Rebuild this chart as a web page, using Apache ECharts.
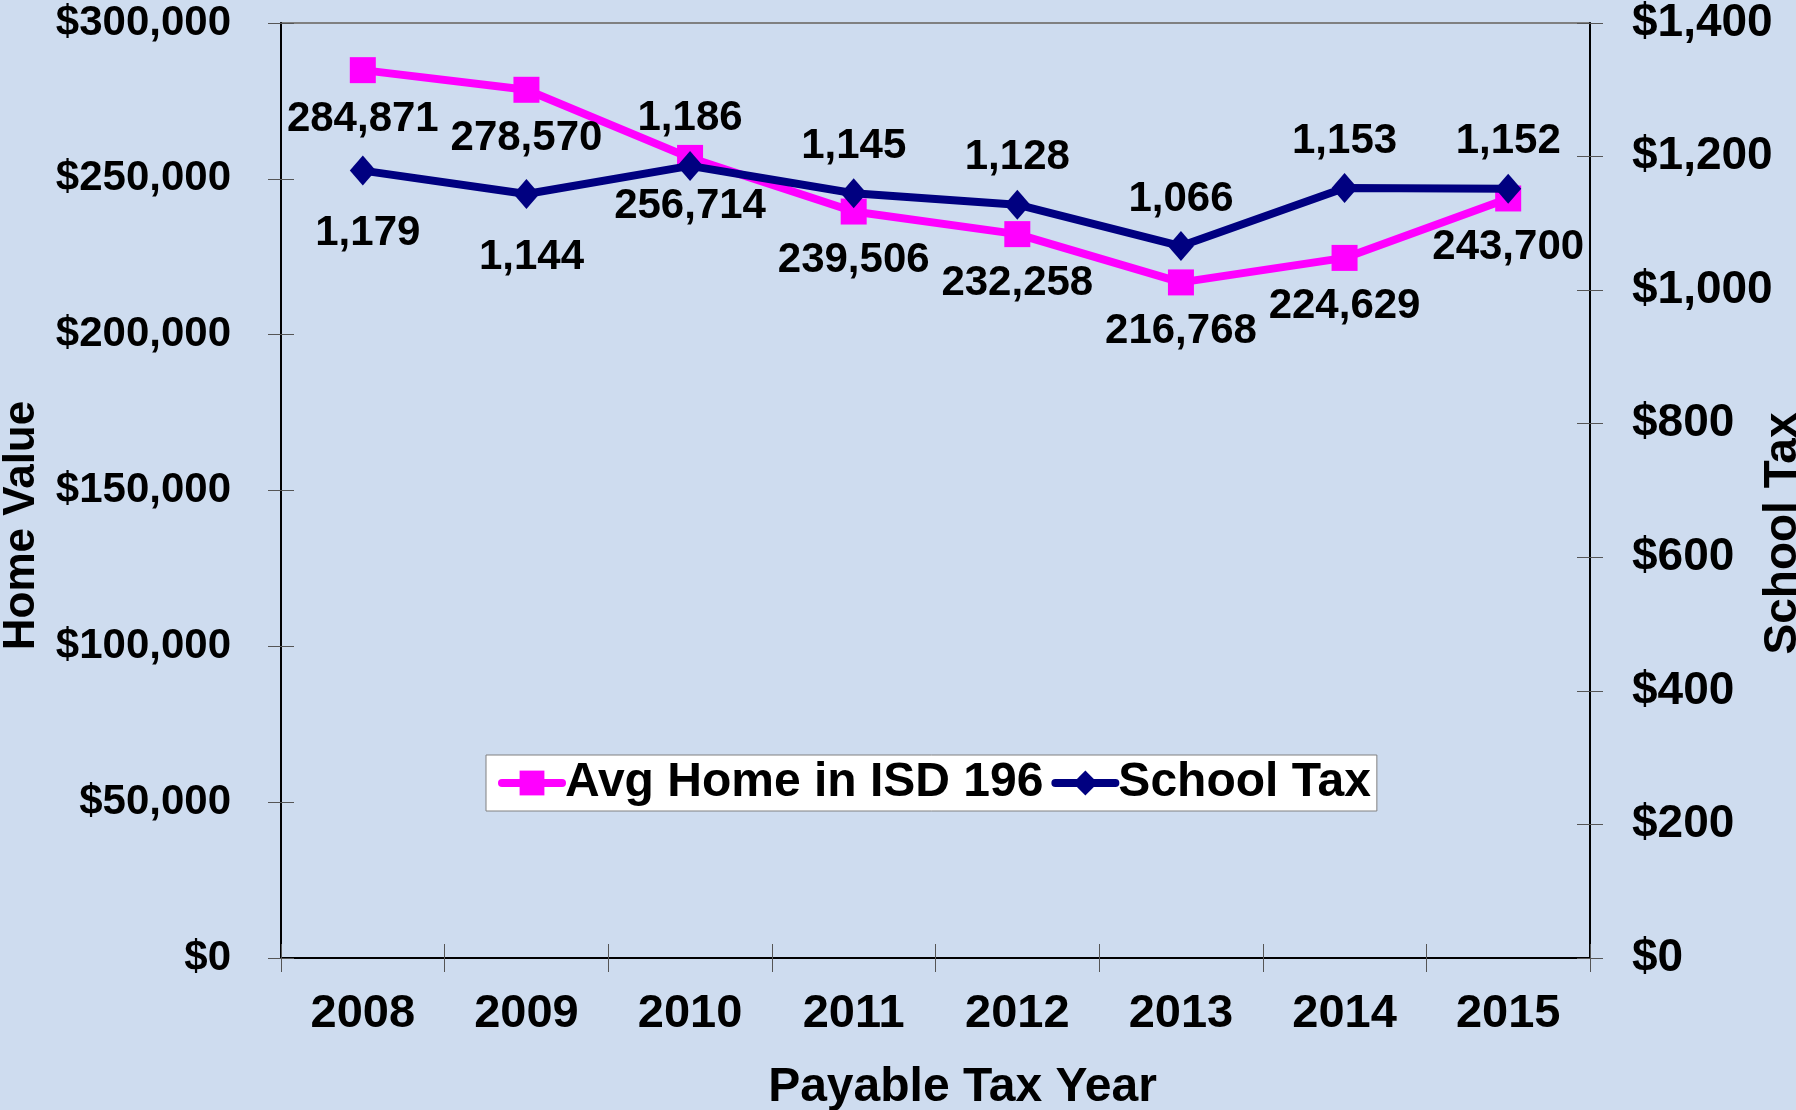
<!DOCTYPE html>
<html>
<head>
<meta charset="utf-8">
<script src="https://cdn.jsdelivr.net/npm/echarts@6/dist/echarts.min.js"></script>
<style>
  html, body { margin: 0; padding: 0; background: #CEDCEF; }
  #chart { width: 1796px; height: 1110px; }
</style>
</head>
<body>
<div id="chart"></div>
<script>
var years = ['2008', '2009', '2010', '2011', '2012', '2013', '2014', '2015'];
var homeValues = [284871, 278570, 256714, 239506, 232258, 216768, 224629, 243700];
var schoolTax = [1179, 1144, 1186, 1145, 1128, 1066, 1153, 1152];

var font = 'Liberation Sans, Arial, sans-serif';
var gridBox = { left: 281, right: 206, top: 23, bottom: 152 };

function commas(v) {
  return Number(v).toLocaleString('en-US');
}

var homeData = homeValues.map(function (v) {
  return { value: v, label: { offset: [0, 49] } };
});
var taxData = schoolTax.map(function (v, i) {
  // the first two tax labels sit below their points, the rest above
  return { value: v, label: { offset: i < 2 ? [5, 63] : [0, -47] } };
});

var chart = echarts.init(document.getElementById('chart'));

var option = {
  backgroundColor: '#CEDCEF',
  animation: false,
  textStyle: { fontFamily: font, fontWeight: 'bold', color: '#000' },
  grid: {
    left: gridBox.left, right: gridBox.right, top: gridBox.top, bottom: gridBox.bottom,
    outerBoundsMode: 'none', containLabel: false,
    show: true, borderColor: '#808080', borderWidth: 2, backgroundColor: 'transparent'
  },
  legend: {
    left: 486, top: 755,
    backgroundColor: '#fff', borderColor: '#808080', borderWidth: 1,
    padding: [4, 6, 4, 12],
    itemWidth: 60, itemHeight: 31, itemGap: 8,
    lineStyle: { width: 8, cap: 'round' },
    textStyle: { fontFamily: font, fontWeight: 'bold', fontSize: 48, color: '#000', padding: [0, 0, 0, -2] },
    data: ['Avg Home in ISD 196', 'School Tax']
  },
  xAxis: [
    {
      type: 'category', data: years, boundaryGap: true,
      name: 'Payable Tax Year', nameLocation: 'middle', nameGap: 106,
      nameTextStyle: { fontFamily: font, fontWeight: 'bold', fontSize: 48, color: '#000', padding: [0, 0, 0, 54] },
      axisLine: { lineStyle: { color: '#000', width: 2 } },
      axisTick: { show: true, length: 14, lineStyle: { color: '#555' } },
      axisLabel: { fontFamily: font, fontWeight: 'bold', fontSize: 47, color: '#000', margin: 33 }
    },
    {
      type: 'category', data: years, boundaryGap: true, position: 'bottom',
      axisLine: { show: false },
      axisTick: { show: true, inside: true, length: 14, lineStyle: { color: '#555' } },
      axisLabel: { show: false }
    }
  ],
  yAxis: [
    {
      type: 'value', min: 0, max: 300000, interval: 50000, position: 'left',
      name: 'Home Value', nameLocation: 'middle', nameGap: 237, nameRotate: 90,
      nameTextStyle: { fontFamily: font, fontWeight: 'bold', fontSize: 44, color: '#000', padding: [0, 70, 0, 0] },
      axisLine: { show: true, lineStyle: { color: '#000', width: 2 } },
      axisTick: { show: true, length: 13, lineStyle: { color: '#555' } },
      splitLine: { show: false },
      axisLabel: {
        fontFamily: font, fontWeight: 'bold', fontSize: 42, color: '#000', margin: 50,
        formatter: function (v) { return '$' + commas(v); }
      }
    },
    {
      type: 'value', min: 0, max: 1400, interval: 200, position: 'right',
      name: 'School Tax', nameLocation: 'middle', nameGap: 170, nameRotate: 90,
      nameMoveOverlap: false,
      nameTextStyle: { fontFamily: font, fontWeight: 'bold', fontSize: 46, color: '#000', padding: [0, 86, 0, 0] },
      axisLine: { show: true, lineStyle: { color: '#000', width: 2 } },
      axisTick: { show: true, length: 13, lineStyle: { color: '#555' } },
      splitLine: { show: false },
      axisLabel: {
        fontFamily: font, fontWeight: 'bold', fontSize: 46, color: '#000', margin: 42,
        formatter: function (v) { return '$' + commas(v); }
      }
    },
    {
      type: 'value', min: 0, max: 300000, interval: 50000, position: 'left',
      axisLine: { show: false }, splitLine: { show: false }, axisLabel: { show: false },
      axisTick: { show: true, inside: true, length: 13, lineStyle: { color: '#555' } }
    },
    {
      type: 'value', min: 0, max: 1400, interval: 200, position: 'right',
      axisLine: { show: false }, splitLine: { show: false }, axisLabel: { show: false },
      axisTick: { show: true, inside: true, length: 13, lineStyle: { color: '#555' } }
    }
  ],
  series: [
    {
      name: 'Avg Home in ISD 196', type: 'line', yAxisIndex: 0, data: homeData,
      symbol: 'rect', symbolSize: 26,
      lineStyle: { color: '#FF00FF', width: 8 },
      itemStyle: { color: '#FF00FF' },
      label: {
        show: true, position: 'inside', color: '#000',
        fontFamily: font, fontWeight: 'bold', fontSize: 42,
        formatter: function (p) { return commas(p.value); }
      },
      z: 2
    },
    {
      name: 'School Tax', type: 'line', yAxisIndex: 1, data: taxData,
      symbol: 'diamond', symbolSize: [26, 30],
      lineStyle: { color: '#000080', width: 8 },
      itemStyle: { color: '#000080' },
      label: {
        show: true, position: 'inside', color: '#000',
        fontFamily: font, fontWeight: 'bold', fontSize: 42,
        formatter: function (p) { return commas(p.value); }
      },
      z: 3
    }
  ]
};

chart.setOption(option);
</script>
</body>
</html>
